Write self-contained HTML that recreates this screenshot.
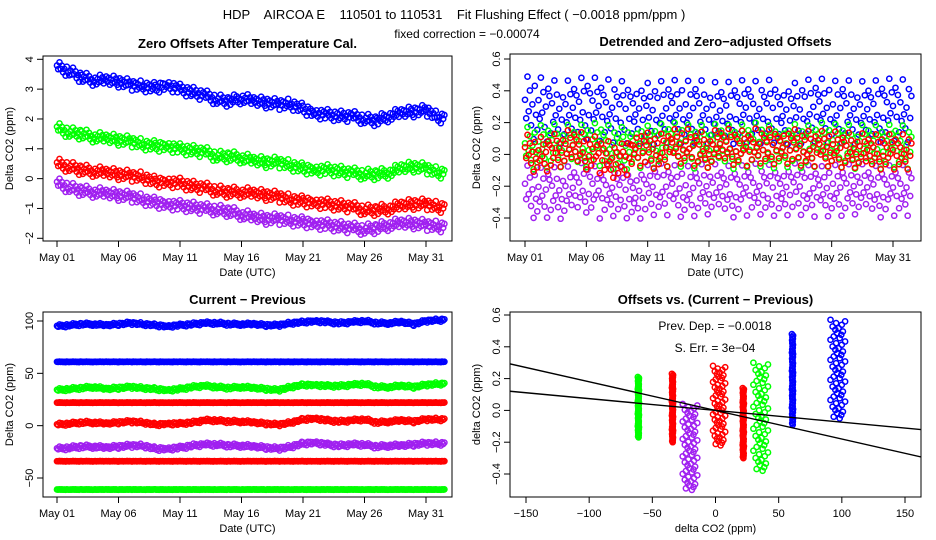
<!DOCTYPE html>
<html><head><meta charset="utf-8"><style>
body{margin:0;background:#fff;}
svg{display:block;font-family:"Liberation Sans",sans-serif;}
</style></head><body>
<svg id="c" width="936" height="540" viewBox="0 0 936 540">
<text x="454" y="19" font-size="13" text-anchor="middle" xml:space="preserve">HDP    AIRCOA E    110501 to 110531    Fit Flushing Effect ( −0.0018 ppm/ppm )</text>
<text x="467" y="38" font-size="12" text-anchor="middle">fixed correction = −0.00074</text>
</svg>
<script>
// ---- data ----
const dateTickDays=[0,5,10,15,20,25,30];
const dateTickLabels=["May 01","May 06","May 11","May 16","May 21","May 26","May 31"];
const seriesColors={blue:"#0000ff",green:"#00ff00",red:"#ff0000",purple:"#a020f0"};
// Panel 1: zero offsets (daily means, ppm)
const zoBlue=[3.75,3.6,3.4,3.3,3.3,3.25,3.15,3.1,3.05,3.15,3.0,2.9,2.8,2.65,2.6,2.7,2.6,2.55,2.5,2.5,2.35,2.2,2.15,2.1,2.1,2.0,1.95,2.1,2.2,2.25,2.3,2.05];
const zoGreen=[1.7,1.55,1.5,1.4,1.35,1.3,1.25,1.15,1.1,1.1,1.0,0.95,0.9,0.75,0.75,0.7,0.6,0.55,0.55,0.45,0.35,0.3,0.3,0.25,0.2,0.15,0.15,0.2,0.35,0.4,0.35,0.2];
const zoRed=[0.5,0.4,0.3,0.25,0.2,0.15,0.1,0.05,-0.1,-0.1,-0.15,-0.25,-0.3,-0.4,-0.45,-0.45,-0.5,-0.55,-0.6,-0.7,-0.75,-0.8,-0.85,-0.9,-0.95,-1.05,-1.05,-1.0,-0.9,-0.85,-0.85,-0.95];
const zoPurple=[-0.15,-0.3,-0.4,-0.45,-0.5,-0.55,-0.6,-0.7,-0.8,-0.85,-0.9,-0.95,-1.0,-1.05,-1.1,-1.2,-1.3,-1.35,-1.35,-1.4,-1.45,-1.5,-1.55,-1.6,-1.65,-1.7,-1.65,-1.55,-1.5,-1.5,-1.55,-1.6];
const zoSpread=0.15;
const zoTicks=[-2,-1,0,1,2,3,4];
// Panel 2: detrended offsets
const dtBlue=[0.3,0.3,0.28,0.27,0.28,0.3,0.29,0.28,0.27,0.28,0.26,0.27,0.28,0.27,0.28,0.27,0.26,0.27,0.28,0.27,0.28,0.27,0.26,0.28,0.29,0.27,0.28,0.27,0.27,0.28,0.29,0.28];
const dtGreen=[0.04,0.05,0.06,0.06,0.05,0.06,0.07,0.05,0.04,0.06,0.05,0.06,0.07,0.06,0.05,0.06,0.06,0.05,0.06,0.07,0.05,0.06,0.06,0.05,0.07,0.06,0.06,0.05,0.06,0.05,0.06,0.05];
const dtRed=[0.02,0.0,0.01,0.04,0.05,0.02,0.0,-0.03,-0.04,0.05,0.03,0.02,0.05,0.06,0.04,0.03,0.06,0.05,0.04,0.06,0.05,0.06,0.05,0.04,0.04,0.04,0.03,0.03,0.02,0.02,0.02,0.02];
const dtPurple=[-0.22,-0.24,-0.23,-0.24,-0.22,-0.2,-0.24,-0.22,-0.23,-0.25,-0.22,-0.21,-0.22,-0.23,-0.22,-0.21,-0.22,-0.23,-0.22,-0.21,-0.22,-0.22,-0.21,-0.22,-0.23,-0.22,-0.22,-0.21,-0.22,-0.23,-0.22,-0.22];
const dtSpread={blue:0.16,green:0.11,red:0.09,purple:0.13};
const dtTicks=[-0.4,-0.2,0.0,0.2,0.4,0.6];
const dtTickLabels=["−0.4","−0.2","0.0","0.2","0.4","0.6"];
// Panel 3: current - previous (ppm)
const cpBlue=[95,96,97,97,96,97,98,97,96,95,96,97,98,98,97,97,97,96,96,98,99,100,99,98,99,100,98,98,99,97,100,101];
const cpBlueRef=[61,61,61,61,61,61,61,61,61,61,61,61,61,61,61,61,61,61,61,61,61,61,61,61,61,61,61,61,61,61,61,61];
const cpGreen=[34,35,36,37,35,36,37,36,35,34,35,37,38,37,36,37,36,35,34,37,39,39,38,38,39,40,37,37,38,37,39,40];
const cpRedRef=[22,22,22,22,22,22,22,22,22,22,22,22,22,22,22,22,22,22,22,22,22,22,22,22,22,22,22,22,22,22,22,22];
const cpRed=[1,2,3,3,2,3,4,3,1,2,2,3,5,5,4,4,3,2,1,3,6,7,5,4,5,6,3,4,5,4,6,6];
const cpPurple=[-22,-21,-20,-20,-21,-20,-19,-19,-22,-22,-21,-19,-18,-18,-19,-19,-20,-21,-22,-20,-17,-16,-18,-19,-18,-18,-20,-19,-19,-18,-17,-17];
const cpRedRef2=[-34,-34,-34,-34,-34,-34,-34,-34,-34,-34,-34,-34,-34,-34,-34,-34,-34,-34,-34,-34,-34,-34,-34,-34,-34,-34,-34,-34,-34,-34,-34,-34];
const cpGreenRef=[-61,-61,-61,-61,-61,-61,-61,-61,-61,-61,-61,-61,-61,-61,-61,-61,-61,-61,-61,-61,-61,-61,-61,-61,-61,-61,-61,-61,-61,-61,-61,-61];
const cpTicks=[-50,0,50,100];
// Panel 4: offsets vs current-previous clusters
const clColor=["green","red","purple","red","red","green","blue","blue"];
const clX=[-61,-34,-20,3,22,36,61,97];
const clXSpread=[0.5,0.5,6,5,0.5,6,0.5,6];
const clYMin=[-0.17,-0.2,-0.5,-0.22,-0.3,-0.38,-0.09,-0.05];
const clYMax=[0.21,0.23,0.04,0.28,0.14,0.3,0.48,0.57];
const fitSlopes=[-0.0018,-0.00074];
const fitIntercepts=[0.0,0.0];
const ovXTicks=[-150,-100,-50,0,50,100,150];
const ovXTickLabels=["−150","−100","−50","0","50","100","150"];
// fixed scatter pattern (day fraction, normalized deviation)
const jitterFrac=[0,0.1,0.2,0.3,0.4,0.5,0.6,0.7,0.8,0.9];
const jitterDev=[0.3,-0.8,0.6,-0.2,0.9,-0.5,0.1,-1.0,0.7,-0.35,1.3,-1.4];

// ---- drawing ----
const svg=document.getElementById('c');
const NS="http://www.w3.org/2000/svg";
function mk(tag,attrs,parent){const e=document.createElementNS(NS,tag);for(const k in attrs)e.setAttribute(k,attrs[k]);(parent||svg).appendChild(e);return e;}
function lin(d0,d1,p0,p1){return v=>p0+(v-d0)*(p1-p0)/(d1-d0);}
function panel(name,box,title,xlab,ylab){
  const g=mk('g',{});
  
  
  const t=mk('text',{x:(box.x0+box.x1)/2,y:box.y0-8,'font-size':13,'font-weight':'bold','text-anchor':'middle'},g);
  t.textContent=title;
  
  
  const xl=mk('text',{x:(box.x0+box.x1)/2,y:box.y1+35,'font-size':11,'text-anchor':'middle'},g);
  xl.textContent=xlab;
  
  
  const cy=(box.y0+box.y1)/2;
  const yl=mk('text',{x:box.x0-30,y:cy,'font-size':11,'text-anchor':'middle',transform:`rotate(-90 ${box.x0-30} ${cy})`},g);
  yl.textContent=ylab;
  
  
  return g;
}
function frame(g,box){
  const r=mk('rect',{x:box.x0,y:box.y0,width:box.x1-box.x0,height:box.y1-box.y0,fill:'none',stroke:'#000','stroke-width':1},g);
  
  
}
function xAxis(g,box,sx,vals,labels){
  const ax=mk('g',{},g);
  
  
  mk('line',{x1:sx(vals[0]),x2:sx(vals[vals.length-1]),y1:box.y1,y2:box.y1,stroke:'#000'},ax);
  vals.forEach((v,i)=>{
    mk('line',{x1:sx(v),x2:sx(v),y1:box.y1,y2:box.y1+6,stroke:'#000'},ax);
    const t=mk('text',{x:sx(v),y:box.y1+20,'font-size':11,'text-anchor':'middle'},ax);
    t.textContent=labels[i];
    
    
  });
}
function yAxis(g,box,sy,vals,labels){
  const ax=mk('g',{},g);
  
  
  vals.forEach((v,i)=>{
    mk('line',{x1:box.x0-6,x2:box.x0,y1:sy(v),y2:sy(v),stroke:'#000'},ax);
    const x=box.x0-10;
    const t=mk('text',{x:x,y:sy(v),'font-size':11,'text-anchor':'middle',transform:`rotate(-90 ${x} ${sy(v)})`},ax);
    t.textContent=labels[i];
    
    
  });
}
function pt(g,x,y,color){
  mk('circle',{cx:x.toFixed(1),cy:y.toFixed(1),r:2.6,fill:'none',stroke:color,'stroke-width':1.5},g);
}
function timeSeries(g,name,arr,spread,color,sx,sy,n){
  const s=mk('g',{},g);
  
  
  for(let d=0;d<arr.length;d++){
    const next=d+1<arr.length?arr[d+1]:arr[d];
    for(let k=0;k<n;k++){
      const f=jitterFrac[k%jitterFrac.length];
      const dev=jitterDev[(k*5+d*7)%jitterDev.length]/1.1;
      const v=arr[d]+(next-arr[d])*f+dev*spread;
      const day=d+f;
      if(day>31.5)continue;
      pt(s,sx(day),sy(v),color);
    }
  }
}
// Panel 1
{
  const box={x0:43,x1:452,y0:56,y1:241};
  const g=panel('zero-offsets-panel',box,'Zero Offsets After Temperature Cal.','Date (UTC)','Delta CO2 (ppm)');
  const sx=lin(0,30,57,426), sy=lin(4,-2,59.3,238.3);
  timeSeries(g,'series-blue',zoBlue,zoSpread,seriesColors.blue,sx,sy,10);
  timeSeries(g,'series-green',zoGreen,zoSpread,seriesColors.green,sx,sy,10);
  timeSeries(g,'series-red',zoRed,zoSpread,seriesColors.red,sx,sy,10);
  timeSeries(g,'series-purple',zoPurple,zoSpread,seriesColors.purple,sx,sy,10);
  frame(g,box);
  xAxis(g,box,sx,dateTickDays,dateTickLabels);
  yAxis(g,box,sy,zoTicks,zoTicks.map(v=>v<0?'−'+(-v):String(v)));
}
// Panel 2
{
  const box={x0:510,x1:921,y0:54,y1:241};
  const g=panel('detrended-offsets-panel',box,'Detrended and Zero−adjusted Offsets','Date (UTC)','Delta CO2 (ppm)');
  const sx=lin(0,30,525,893), sy=lin(0.6,-0.4,59,218);
  timeSeries(g,'series-blue',dtBlue,dtSpread.blue,seriesColors.blue,sx,sy,10);
  timeSeries(g,'series-purple',dtPurple,dtSpread.purple,seriesColors.purple,sx,sy,10);
  timeSeries(g,'series-green',dtGreen,dtSpread.green,seriesColors.green,sx,sy,10);
  timeSeries(g,'series-red',dtRed,dtSpread.red,seriesColors.red,sx,sy,10);
  frame(g,box);
  xAxis(g,box,sx,dateTickDays,dateTickLabels);
  yAxis(g,box,sy,dtTicks,dtTickLabels);
}
// Panel 3
{
  const box={x0:43,x1:452,y0:312,y1:497};
  const g=panel('current-previous-panel',box,'Current − Previous','Date (UTC)','Delta CO2 (ppm)');
  const sx=lin(0,30,57,426), sy=lin(100,-50,321,478);
  timeSeries(g,'series-blue',cpBlue,1.2,seriesColors.blue,sx,sy,10);
  timeSeries(g,'series-blue-ref',cpBlueRef,0.2,seriesColors.blue,sx,sy,10);
  timeSeries(g,'series-green',cpGreen,1.2,seriesColors.green,sx,sy,10);
  timeSeries(g,'series-red-ref',cpRedRef,0.2,seriesColors.red,sx,sy,10);
  timeSeries(g,'series-red',cpRed,1.2,seriesColors.red,sx,sy,10);
  timeSeries(g,'series-purple',cpPurple,1.5,seriesColors.purple,sx,sy,10);
  timeSeries(g,'series-red-ref2',cpRedRef2,0.2,seriesColors.red,sx,sy,10);
  timeSeries(g,'series-green-ref',cpGreenRef,0.2,seriesColors.green,sx,sy,10);
  frame(g,box);
  xAxis(g,box,sx,dateTickDays,dateTickLabels);
  yAxis(g,box,sy,cpTicks,cpTicks.map(v=>v<0?'−'+(-v):String(v)));
}
// Panel 4
{
  const box={x0:510,x1:921,y0:312,y1:497};
  const g=panel('offsets-vs-current-previous-panel',box,'Offsets vs. (Current − Previous)','delta CO2 (ppm)','delta CO2 (ppm)');
  const sx=lin(-150,150,526,905), sy=lin(0.6,-0.4,315,474);
  clX.forEach((cx,i)=>{
    const s=mk('g',{},g);
    
    
    const n=60;
    for(let k=0;k<n;k++){
      const v=clYMin[i]+(clYMax[i]-clYMin[i])*k/(n-1);
      const x=cx+jitterDev[k%jitterDev.length]/1.4*clXSpread[i];
      pt(s,sx(x),sy(v),seriesColors[clColor[i]]);
    }
  });
  const cp=mk('clipPath',{id:'cl4'},g);
  mk('rect',{x:box.x0,y:box.y0,width:box.x1-box.x0,height:box.y1-box.y0},cp);
  fitSlopes.forEach((m,i)=>{
    const xa=-165,xb=165;
    const l=mk('line',{x1:sx(xa),y1:sy(fitIntercepts[i]+m*xa),x2:sx(xb),y2:sy(fitIntercepts[i]+m*xb),stroke:'#000','stroke-width':1.4,'clip-path':'url(#cl4)'},g);
    
    
  });
  const t1=mk('text',{x:715,y:330,'font-size':12,'text-anchor':'middle'},g);
  t1.textContent='Prev. Dep. =  −0.0018';
  
  
  const t2=mk('text',{x:715,y:352,'font-size':12,'text-anchor':'middle'},g);
  t2.textContent='S. Err. =  3e−04';
  
  
  frame(g,box);
  xAxis(g,box,sx,ovXTicks,ovXTickLabels);
  yAxis(g,box,sy,dtTicks,dtTickLabels);
}
</script>
</body></html>
